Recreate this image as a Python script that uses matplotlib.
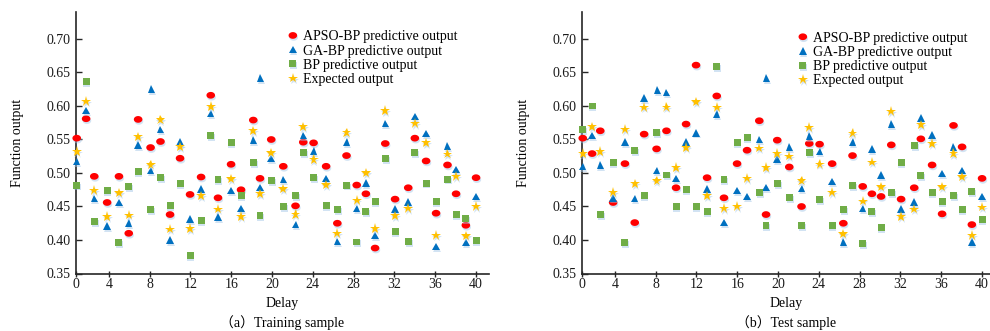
import numpy as np
import matplotlib
matplotlib.use("Agg")
import matplotlib.pyplot as plt
from matplotlib.path import Path
import matplotlib.patheffects as pe

plt.rcParams['font.family'] = ['Liberation Serif', 'Noto Sans CJK SC', 'DejaVu Sans']
plt.rcParams['font.size'] = 10

# ---------------- data ----------------
delay = [0.85, 1.77, 2.57, 3.83, 4.99, 5.95, 6.87, 8.09, 9.06, 10.0,
         10.98, 11.96, 13.04, 13.99, 14.7, 15.98, 16.96, 18.16, 18.82, 19.92,
         21.1, 22.3, 23.06, 24.07, 25.3, 26.4, 27.3, 28.3, 29.2, 30.1,
         31.1, 32.06, 33.35, 34.0, 35.1, 36.08, 37.2, 38.04, 39.0, 40.0]
ga_extra_delay = [8.18, 18.86]

x_tick_labels = ['0', '4', '8', '12', '16', '20', '24', '28', '32', '36', '40']
y_ticks = [0.35, 0.40, 0.45, 0.50, 0.55, 0.60, 0.65, 0.70]

# (a) Training sample
train_apso = [0.552, 0.581, 0.495, 0.456, 0.495, 0.410, 0.580, 0.538, 0.547, 0.438,
              0.522, 0.468, 0.494, 0.616, 0.463, 0.513, 0.475, 0.579, 0.492, 0.550,
              0.510, 0.451, 0.546, 0.545, 0.510, 0.425, 0.526, 0.482, 0.469, 0.388,
              0.544, 0.461, 0.478, 0.552, 0.518, 0.440, 0.512, 0.469, 0.422, 0.493]
train_ga = [0.517, 0.593, 0.462, 0.421, 0.456, 0.425, 0.542, 0.504, 0.565, 0.400,
            0.546, 0.431, 0.476, 0.589, 0.434, 0.474, 0.447, 0.549, 0.478, 0.522,
            0.490, 0.423, 0.556, 0.533, 0.492, 0.398, 0.546, 0.447, 0.485, 0.407,
            0.574, 0.446, 0.457, 0.584, 0.559, 0.390, 0.540, 0.505, 0.396, 0.465]
train_ga_extra = [0.625, 0.642]
train_bp = [0.482, 0.637, 0.427, 0.474, 0.396, 0.480, 0.502, 0.445, 0.493, 0.451,
            0.484, 0.377, 0.429, 0.556, 0.490, 0.545, 0.466, 0.515, 0.437, 0.489,
            0.450, 0.466, 0.531, 0.493, 0.451, 0.445, 0.482, 0.397, 0.442, 0.457,
            0.521, 0.413, 0.398, 0.530, 0.485, 0.458, 0.491, 0.438, 0.432, 0.399]
train_expected = [0.532, 0.607, 0.474, 0.435, 0.470, 0.437, 0.554, 0.512, 0.579, 0.416,
                  0.539, 0.417, 0.466, 0.599, 0.446, 0.491, 0.435, 0.563, 0.469, 0.530,
                  0.476, 0.438, 0.569, 0.520, 0.482, 0.410, 0.560, 0.459, 0.500, 0.417,
                  0.593, 0.436, 0.447, 0.574, 0.545, 0.407, 0.528, 0.495, 0.406, 0.450]

# (b) Test sample
test_apso = [0.552, 0.529, 0.563, 0.456, 0.514, 0.426, 0.558, 0.536, 0.563, 0.478,
             0.573, 0.661, 0.493, 0.615, 0.463, 0.514, 0.534, 0.578, 0.438, 0.549,
             0.509, 0.450, 0.544, 0.543, 0.514, 0.425, 0.526, 0.480, 0.469, 0.465,
             0.542, 0.461, 0.478, 0.551, 0.512, 0.439, 0.571, 0.539, 0.423, 0.492]
test_ga = [0.510, 0.556, 0.512, 0.463, 0.546, 0.462, 0.612, 0.504, 0.620, 0.492,
           0.546, 0.560, 0.476, 0.588, 0.426, 0.474, 0.465, 0.550, 0.478, 0.521,
           0.539, 0.477, 0.555, 0.532, 0.487, 0.397, 0.546, 0.447, 0.536, 0.497,
           0.573, 0.446, 0.457, 0.582, 0.557, 0.499, 0.539, 0.504, 0.397, 0.465]
test_ga_extra = [0.624, 0.642]
test_bp = [0.565, 0.600, 0.438, 0.516, 0.396, 0.533, 0.467, 0.561, 0.497, 0.450,
           0.475, 0.450, 0.442, 0.659, 0.490, 0.545, 0.553, 0.471, 0.422, 0.484,
           0.463, 0.422, 0.531, 0.460, 0.422, 0.445, 0.481, 0.395, 0.442, 0.419,
           0.471, 0.516, 0.541, 0.496, 0.471, 0.457, 0.467, 0.446, 0.473, 0.430]
test_expected = [0.529, 0.569, 0.532, 0.471, 0.565, 0.484, 0.598, 0.488, 0.598, 0.508,
                 0.538, 0.606, 0.466, 0.598, 0.447, 0.450, 0.492, 0.537, 0.508, 0.529,
                 0.525, 0.488, 0.568, 0.513, 0.471, 0.409, 0.559, 0.458, 0.516, 0.479,
                 0.592, 0.435, 0.446, 0.572, 0.544, 0.479, 0.529, 0.494, 0.407, 0.449]

series_labels = ['APSO-BP predictive output', 'GA-BP predictive output',
                 'BP predictive output', 'Expected output']
captions = ['（a）Training sample', '（b）Test sample']

# ---------------- style ----------------
W, H = 990, 331
fig = plt.figure(figsize=(W / 100, H / 100), dpi=100)

t = np.linspace(0, 2 * np.pi, 41)
ellipse = Path(np.column_stack([np.cos(t), 0.78 * np.sin(t)]), closed=True)

shadow = [pe.withSimplePatchShadow(offset=(0.6, -1.4), shadow_rgbFace='#9dc3e6', alpha=0.45)]

C_RED, C_BLUE, C_GREEN, C_GOLD = '#FF0000', '#0070C0', '#70AD47', '#FFC000'
AX_COL = '#262626'

x_left_px = [75.7, 581.7]
x_right_px = [489.0, 990.0]
y_bot_px, y_top_px = 273.5, 12.0
xmin = 0.75
px_per_unit = 10.2


def make_panel(i, apso, ga, ga_extra, bp, expected, legend_pos):
    l, r = x_left_px[i], x_right_px[i]
    ax = fig.add_axes([l / W, 1 - y_bot_px / H, (r - l) / W, (y_bot_px - y_top_px) / H])
    xmax = xmin + (r - l) / px_per_unit
    kw = dict(linestyle='none', markeredgewidth=0, path_effects=shadow, clip_on=False, zorder=3)
    h1, = ax.plot(delay, apso, marker=ellipse, ms=6.2, color=C_RED, label=series_labels[0], **kw)
    h2, = ax.plot(delay + ga_extra_delay, ga + ga_extra, marker='^', ms=5.4, color=C_BLUE,
                  label=series_labels[1], **kw)
    h3, = ax.plot(delay, bp, marker='s', ms=5.0, color=C_GREEN, label=series_labels[2], **kw)
    h4, = ax.plot(delay, expected, marker='*', ms=7.5, color=C_GOLD, label=series_labels[3], **kw)

    ax.set_xlim(xmin, xmax)
    ax.set_ylim(0.35, 0.35 + (y_bot_px - y_top_px) / 670.0)
    tick_pos = [xmin] + [float(s) for s in x_tick_labels[1:]]
    ax.set_xticks(tick_pos)
    ax.set_xticklabels(x_tick_labels)
    ax.set_yticks(y_ticks)
    ax.set_yticklabels([f'{v:.2f}' for v in y_ticks])
    for s in ('top', 'right'):
        ax.spines[s].set_visible(False)
    for s in ('left', 'bottom'):
        ax.spines[s].set_color(AX_COL)
        ax.spines[s].set_linewidth(1.2)
    ax.tick_params(axis='y', direction='in', length=4, width=1.0, color=AX_COL,
                   labelsize=10, pad=4, labelcolor='#1a1a1a')
    ax.tick_params(axis='x', direction='inout', length=5, width=1.0, color=AX_COL,
                   labelsize=10, pad=1, labelcolor='#1a1a1a')
    ax.set_ylabel('Function output', fontsize=10, labelpad=16)
    ax.set_xlabel('Delay', fontsize=10, labelpad=4)
    ax.text(0.5, -0.186, captions[i], transform=ax.transAxes, ha='center', va='center', fontsize=10)
    ax.legend(handles=[h1, h2, h3, h4], loc='upper left', bbox_to_anchor=legend_pos,
              frameon=False, borderpad=0, borderaxespad=0, handlelength=0.8,
              handletextpad=0.35, labelspacing=0.09, fontsize=10)
    return ax


make_panel(0, train_apso, train_ga, train_ga_extra, train_bp, train_expected, (0.512, 0.93))
make_panel(1, test_apso, test_ga, test_ga_extra, test_bp, test_expected, (0.528, 0.925))

fig.savefig('out.png', dpi=100)
